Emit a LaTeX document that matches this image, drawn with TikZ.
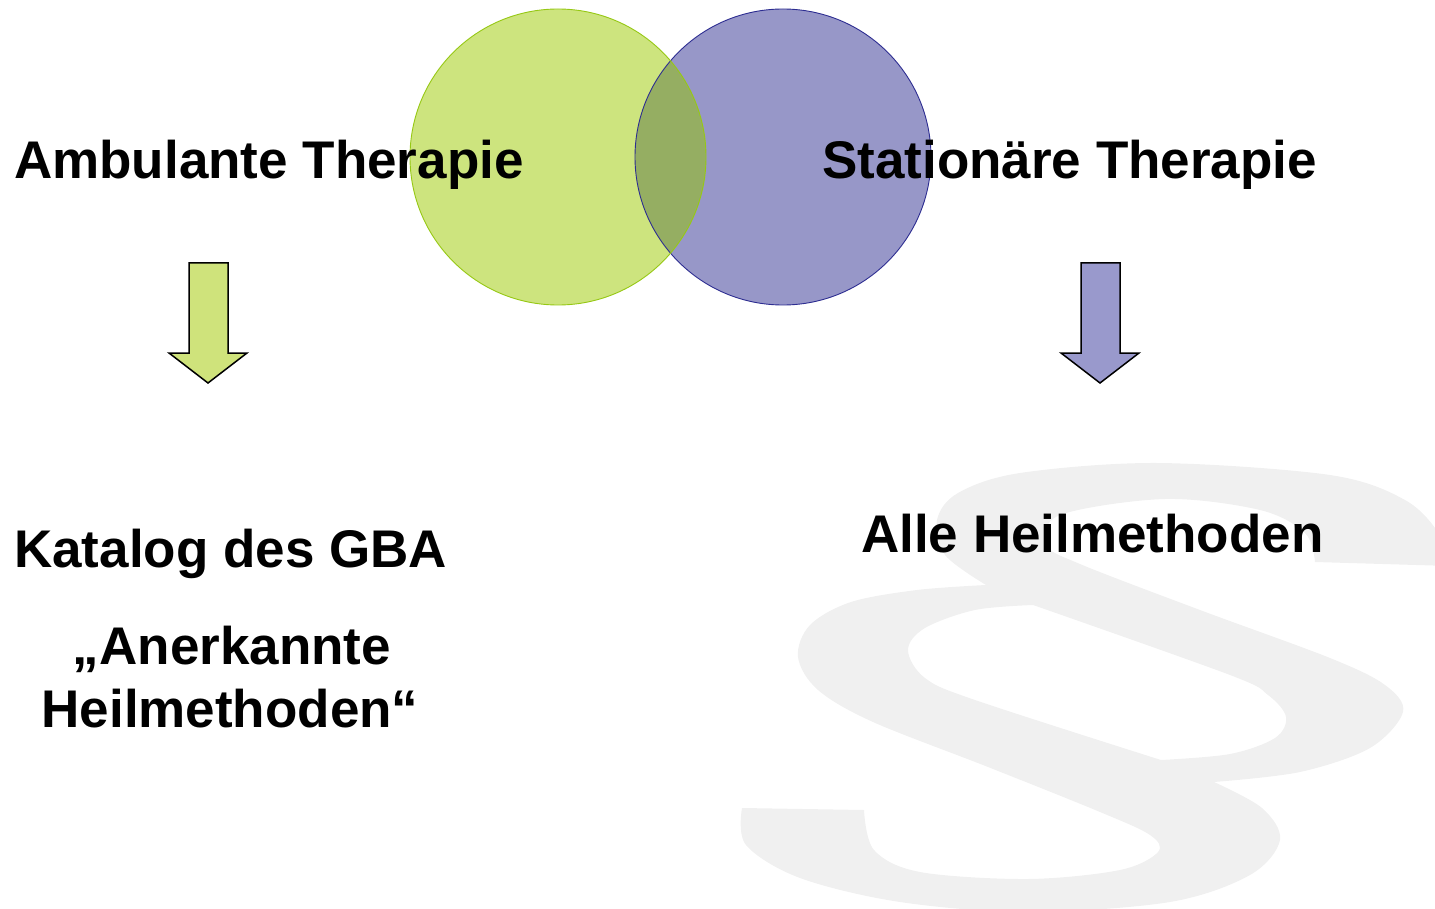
\documentclass[tikz,border=0pt]{standalone}
\usepackage{fontspec}
\setmainfont{Liberation Sans}
\definecolor{grfill}{RGB}{205,228,126}
\definecolor{grline}{RGB}{150,200,20}
\definecolor{pufill}{RGB}{151,151,200}
\definecolor{puline}{RGB}{45,45,145}
\definecolor{ovfill}{RGB}{149,174,98}
\definecolor{argreen}{RGB}{207,227,123}
\definecolor{arpurple}{RGB}{153,153,204}
\definecolor{parag}{RGB}{240,240,240}
\begin{document}
\begin{tikzpicture}[x=1pt,y=-1pt,
  lbl/.style={font=\fontsize{53}{63}\selectfont\bfseries, inner sep=0pt, text=black},
  downarrow/.style={draw=black, line width=1.5pt, line join=miter}]
\useasboundingbox (0,0) rectangle (1435,909);
\clip (0,0) rectangle (1435,909);
% paragraph sign background (drawn as a shape)
\fill[parag, even odd rule]
  plot[smooth, tension=0.55] coordinates {(1450,566) (1440,535) (1405,500) (1330,475) (1157,463) (1020,473) (958,493) (937,520) (945,555) (986,585)}
  -- plot[smooth, tension=0.55] coordinates {(986,585) (917,590) (851,602) (810,625) (798,657) (818,690) (873,722) (988,767) (1100,812) (1150,835) (1158,852) (1120,870) (1028,879) (920,872) (874,850) (864,810)}
  -- plot[smooth, tension=0.55] coordinates {(742,808) (746,845) (800,878) (900,902) (1028,912) (1170,902) (1250,875) (1280,840) (1262,808) (1214,782)}
  -- plot[smooth, tension=0.55] coordinates {(1214,782) (1300,772) (1370,748) (1403,712) (1385,685) (1330,658) (1200,610) (1080,564) (1047,545) (1060,515) (1165,499) (1260,510) (1305,533) (1315,562)}
  -- cycle
  (1033,605) -- plot[smooth, tension=0.55] coordinates {(1033,605) (975,610) (925,628) (908,650) (925,678) (975,700) (1161,760)}
  -- plot[smooth, tension=0.55] coordinates {(1161,760) (1230,754) (1275,738) (1286,717) (1268,695) (1230,675) (1033,605)}
  -- cycle;
% circles
\fill[pufill] (783,157) circle (148);
\fill[grfill] (558,157) circle (148);
\begin{scope}
  \clip (783,157) circle (148);
  \fill[ovfill] (558,157) circle (148);
\end{scope}
\draw[puline, line width=0.9pt] (783,157) circle (148);
\draw[grline, line width=0.9pt] (558,157) circle (148);
\node[minimum size=296pt, circle, inner sep=0pt] (amb) at (558,157) {};
\node[minimum size=296pt, circle, inner sep=0pt] (sta) at (783,157) {};
% labels
\node[lbl, anchor=base west] (t1) at (14,179) {Ambulante Therapie};
\node[lbl, anchor=base west] (t2) at (822,179) {Stationäre Therapie};
\node[lbl, anchor=base west] (t3) at (14,567) {Katalog des GBA};
\node[lbl, anchor=base] (t4) at (232,664) {„Anerkannte};
\node[lbl, anchor=base] (t4b) at (230,727) {Heilmethoden“};
\node[lbl, anchor=base west] (t5) at (861,552) {Alle Heilmethoden};
% block arrows
\draw[downarrow, fill=argreen] (189,263) -- (228,263) -- (228,353) -- (247,353) -- (208,383) -- (169,353) -- (189,353) -- cycle;
\draw[downarrow, fill=arpurple] (1081,263) -- (1120,263) -- (1120,353) -- (1139,353) -- (1100,383) -- (1061,353) -- (1081,353) -- cycle;
\end{tikzpicture}
\end{document}
